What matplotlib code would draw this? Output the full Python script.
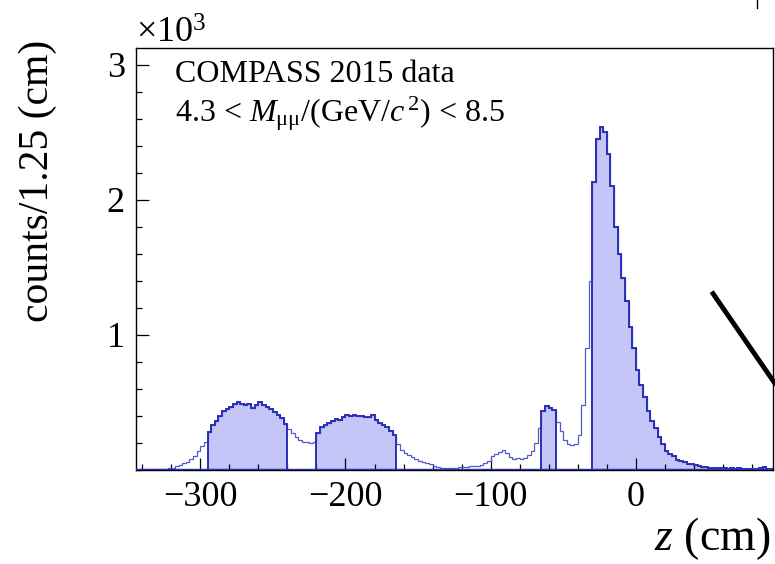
import numpy as np
import matplotlib
matplotlib.use("Agg")
import matplotlib.pyplot as plt
from matplotlib.lines import Line2D
from matplotlib.ticker import MultipleLocator, FixedLocator, FuncFormatter

plt.rcParams['font.family'] = ['Liberation Serif', 'DejaVu Serif']
plt.rcParams['mathtext.fontset'] = 'custom'
plt.rcParams['mathtext.rm'] = 'Liberation Serif'
plt.rcParams['mathtext.it'] = 'Liberation Serif:italic'
plt.rcParams['mathtext.bf'] = 'Liberation Serif:bold'

# ---- data ----
z_start = -345.0          # cm, first bin edge
bin_width = 2.5           # cm
counts = np.array([
    3, 4, 3, 5, 4, 6, 5, 8, 10, 12,
    18, 28, 38, 50, 62, 85, 100, 140, 175, 210,
    280, 330, 365, 400, 440, 455, 470, 490, 500, 488, 478, 490, 462, 480, 500, 485, 468, 450, 430, 410, 385, 340,
    300, 275, 245, 225, 210, 205, 200, 205,
    275, 315, 335, 345, 360, 375, 370, 395, 410, 400, 405, 398, 402, 390, 395, 405, 370, 350, 335, 318, 290, 260,
    190, 150, 125, 112, 95, 82, 70, 62, 50, 42,
    30, 22, 14, 12, 15, 16, 18, 20, 22, 24,
    26, 30, 32, 38, 55, 70, 100, 118, 132, 145,
    125, 95, 80, 92, 80, 92, 110, 140, 200, 310,
    440, 475, 460, 442,
    355, 290, 220, 190, 182, 192, 260, 480, 900, 1400,
    2130, 2450, 2540, 2500, 2340, 2100, 1800, 1600, 1420, 1250,
    1060, 900, 740, 630, 540, 440, 365, 310, 245, 190,
    140, 120, 105, 75, 65, 58, 48, 42, 37, 30,
    25, 22, 18, 15, 12, 12, 12, 10, 12, 11,
    12, 10, 9, 8, 8, 7, 15, 22, 10, 7,
], dtype=float)
# target regions (filled), cm
regions = [(-295.0, -240.0), (-220.0, -165.0), (-65.0, -55.0), (-30.0, 95.0)]
x_ticks = [-300, -200, -100, 0]
y_ticks = [1000, 2000, 3000]

edges = z_start + bin_width * np.arange(len(counts) + 1)

fill_col = '#c3c6f6'
dark_col = '#2a30b6'
thin_col = '#5359cc'

fig = plt.figure(figsize=(7.75, 5.64), dpi=100)
ax = fig.add_axes([136/775, 94/564, 637/775, 422/564])

ax.stairs(counts, edges, color=thin_col, lw=0.9, baseline=None, zorder=2)
for lo, hi in regions:
    m = (edges[:-1] >= lo - 1e-9) & (edges[1:] <= hi + 1e-9)
    idx = np.where(m)[0]
    sub_edges = edges[idx[0]: idx[-1] + 2]
    ax.stairs(counts[m], sub_edges, fill=True, facecolor=fill_col, lw=0, zorder=1)
    ax.stairs(counts[m], sub_edges, color=dark_col, lw=1.4, baseline=0, zorder=3)
ax.axhline(0, color=dark_col, lw=2.5, zorder=4)

ax.set_xlim(-344.3, 94.5)
ax.set_ylim(0, 3125)

ax.xaxis.set_major_locator(FixedLocator(x_ticks))
ax.xaxis.set_minor_locator(MultipleLocator(20))
ax.yaxis.set_major_locator(FixedLocator(y_ticks))
ax.yaxis.set_minor_locator(MultipleLocator(200))
ax.xaxis.set_major_formatter(FuncFormatter(lambda v, p: f"{int(v)}".replace('-', '\u2212')))
ax.yaxis.set_major_formatter(FuncFormatter(lambda v, p: f"{int(round(v/1000))}"))
ax.tick_params(axis='both', which='major', direction='in', length=9, width=0.9, labelsize=26, color='black')
ax.tick_params(axis='both', which='minor', direction='in', length=4.5, width=0.9, color='black')
ax.tick_params(axis='x', which='major', pad=8)
ax.tick_params(axis='y', which='major', pad=8)
ax.tick_params(top=False, right=False, which='both')
for s in ax.spines.values():
    s.set_linewidth(1.0)
    s.set_color('black')

ax.text(0.061, 0.919, "COMPASS 2015 data", transform=ax.transAxes, fontsize=23, va='baseline', ha='left')
ax.text(0.061, 0.825, r"4.3 < $M_{\mathrm{μμ}}$/(GeV/$c^{\,2}$) < 8.5", transform=ax.transAxes,
        fontsize=23, va='baseline', ha='left')

fig.text(136/775, 1 - 43/564, r"×10$^{3}$", fontsize=26, ha='left', va='baseline')
fig.text(38/775, 1 - 40/564, "counts/1.25 (cm)", rotation=90, fontsize=30, ha='center', va='top')
fig.text(770/775, 1 - 550/564, r"$z$ (cm)", fontsize=33, ha='right', va='baseline')

fig.add_artist(Line2D([711.7/775, 776/775], [1 - 291.7/564, 1 - 385/564], transform=fig.transFigure,
                      color='black', lw=3.5, solid_capstyle='butt'))
fig.add_artist(Line2D([757/775, 757/775], [1.0, 1 - 8/564], transform=fig.transFigure,
                      color='black', lw=1.0))

fig.savefig("out.png", dpi=100)
